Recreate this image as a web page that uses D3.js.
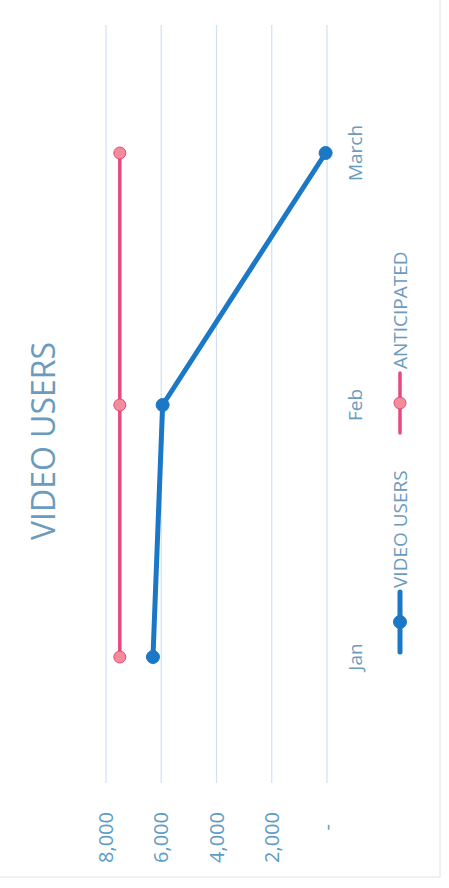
<!DOCTYPE html>
<html>
<head>
<meta charset="utf-8">
<script src="https://cdn.jsdelivr.net/npm/d3@7"></script>
<style>
  html, body { margin: 0; padding: 0; background: #fff; }
  svg { display: block; font-family: "Open Sans", "DejaVu Sans", sans-serif; }
</style>
</head>
<body>
<div id="chart"></div>
<script>
// Chart data
const months = ['Jan', 'Feb', 'March'];
const videoUsers = [6300, 5950, 50];
const anticipated = [7500, 7500, 7500];
const valueTicks = [0, 2000, 4000, 6000, 8000];
const seriesNames = ['VIDEO USERS', 'ANTICIPATED'];

const PAGE = { width: 449, height: 888 };
const COLORS = {
    blue: '#1b78c6',
    pink: '#e8487e',
    pinkMarker: '#f28c9b',
    text: '#6b9bbd',
    tick: '#5e9cc4',
    grid: '#cfe0f3',
};

const svg = d3.select('#chart')
    .append('svg')
    .attr('width', PAGE.width)
    .attr('height', PAGE.height);

svg.append('rect')
    .attr('x', -2).attr('y', -2)
    .attr('width', 442).attr('height', 879)
    .attr('fill', 'none')
    .attr('stroke', '#e2e2e2');

// the scanned chart lies on its side: draw it upright, then turn it
const W = PAGE.height;   // unrotated width
const root = svg.append('g')
    .attr('transform', `translate(0,${W}) rotate(-90)`);

const x = d3.scalePoint()
    .domain(months)
    .range([105, 861])
    .padding(0.5);

const y = d3.scaleLinear()
    .domain([0, 8000])
    .range([327, 106]);

// gridlines
root.append('g')
    .selectAll('line')
    .data(valueTicks)
    .join('line')
    .attr('x1', 105)
    .attr('x2', 863)
    .attr('y1', (d) => y(d))
    .attr('y2', (d) => y(d))
    .attr('stroke', COLORS.grid)
    .attr('stroke-width', 1.2);

// value axis labels
const fmt = d3.format(',');
root.append('g')
    .selectAll('text')
    .data(valueTicks)
    .join('text')
    .attr('x', 76)
    .attr('dx', (d) => (d === 0 ? -12 : 0))
    .attr('y', (d) => y(d))
    .attr('dy', '0.35em')
    .attr('text-anchor', 'end')
    .attr('fill', COLORS.tick)
    .attr('font-size', 20)
    .text((d) => (d === 0 ? '-' : fmt(d)));

// category labels
root.append('g')
    .selectAll('text')
    .data(months)
    .join('text')
    .attr('x', (d) => x(d))
    .attr('y', 355)
    .attr('dy', '0.35em')
    .attr('text-anchor', 'middle')
    .attr('fill', COLORS.text)
    .attr('font-size', 19)
    .text((d) => d);

// title
root.append('text')
    .attr('x', 447)
    .attr('y', 44)
    .attr('dy', '0.35em')
    .attr('text-anchor', 'middle')
    .attr('fill', COLORS.text)
    .attr('font-size', 32)
    .text('VIDEO USERS');

const line = d3.line()
    .x((d, i) => x(months[i]))
    .y((d) => y(d));

const series = [
    { name: seriesNames[0], values: videoUsers, stroke: COLORS.blue, fill: COLORS.blue, width: 5, r: 6.5 },
    { name: seriesNames[1], values: anticipated, stroke: COLORS.pink, fill: COLORS.pinkMarker, width: 3.5, r: 6 },
];

series.slice().reverse().forEach((s) => {
    root.append('path')
        .datum(s.values)
        .attr('d', line)
        .attr('fill', 'none')
        .attr('stroke', s.stroke)
        .attr('stroke-width', s.width)
        .attr('stroke-linejoin', 'round');

    root.append('g')
        .selectAll('circle')
        .data(s.values)
        .join('circle')
        .attr('cx', (d, i) => x(months[i]))
        .attr('cy', (d) => y(d))
        .attr('r', s.r)
        .attr('fill', s.fill)
        .attr('stroke', s.stroke)
        .attr('stroke-width', 1);
});

// legend
const legendY = 400;
const legendStart = [236, 455];
series.forEach((s, i) => {
    const g = root.append('g')
        .attr('transform', `translate(${legendStart[i]},${legendY})`);
    g.append('line')
        .attr('x1', 0).attr('x2', 60)
        .attr('y1', 0).attr('y2', 0)
        .attr('stroke', s.stroke)
        .attr('stroke-width', s.width)
        .attr('stroke-linecap', 'round');
    g.append('circle')
        .attr('cx', 30).attr('cy', 0)
        .attr('r', s.r)
        .attr('fill', s.fill)
        .attr('stroke', s.stroke);
    g.append('text')
        .attr('x', 64)
        .attr('dy', '0.35em')
        .attr('fill', COLORS.text)
        .attr('font-size', 19)
        .text(s.name);
});
</script>
</body>
</html>
